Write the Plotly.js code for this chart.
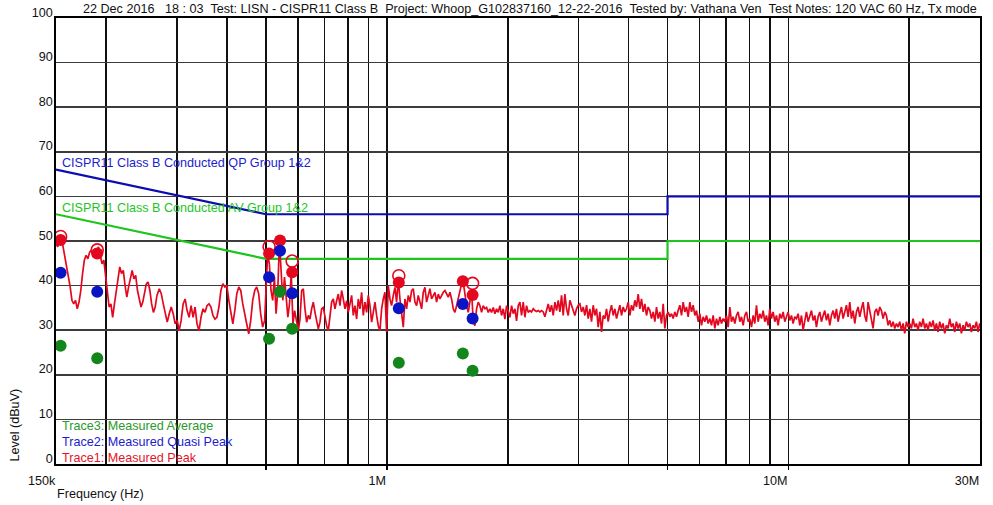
<!DOCTYPE html>
<html><head><meta charset="utf-8">
<script src="https://cdn.plot.ly/plotly-3.0.1.min.js"></script>
<style>html,body{margin:0;padding:0;background:#fff;}#chart{width:993px;height:505px;}</style>
</head><body><div id="chart"></div>
<script>
// ---- Trace1: measured peak sweep (dBuV) ----
// Each sweep segment: start / stop frequency (Hz) and the levels on a log-spaced grid
const sweepA = {start: 150000, stop: 267600};
const peakLevelsA = [49.4,48.7,50.5,50.9,48.7,46.4,44.2,42.7,39.7,36.7,35.9,36.7,34.8,36.3,38.9,42.7,45.7,46.8,46.0,47.5,
  47.9,46.4,48.3,47.9,48.7,46.8,44.9,45.7,41.9,37.4,35.2,35.9,32.9,35.9,38.9,41.9,44.2,42.7,43.4,40.0,
  37.4,39.7,41.9,43.4,41.5,42.3,38.9,36.7,35.2,36.3,38.2,40.4,40.8,38.9,35.9,34.0,35.2,37.8];
const sweepB = {start: 271200, stop: 496200};
const peakLevelsB = [39.3,38.2,35.9,33.7,31.8,33.7,35.2,33.7,31.4,32.2,29.9,32.2,35.9,37.0,34.4,32.9,35.5,32.9,35.2,31.4,
  29.9,32.9,34.8,34.0,35.5,35.9,35.2,33.3,32.5,32.9,35.2,38.9,40.4,39.7,40.0,36.7,33.7,31.4,34.4,38.2,
  39.7,38.9,35.9,34.0,31.4,29.2,32.2,36.7,38.9,39.7,38.2,33.7,30.7,32.2];
const sweepC = {start: 500000, stop: 589300};
const peakLevelsC = [38.9,47.2,44.9,38.9,36.7,41.9,33.7,38.9,49.8,42.7,36.7,41.9,36.7,32.9,36.0,42.8,31.4,34.4];
const sweepD = {start: 601900, stop: 30240000};
const peakLevelsD = [
  29.9,32.5,38.9,39.3,34.8,31.8,33.3,32.5,34.8,36.3,34.0,31.8,30.3,31.8,34.8,35.1,32.5,31.0,29.9,34.0,
  36.3,37.0,34.8,36.6,38.1,35.5,38.9,37.0,34.8,36.6,34.0,35.9,37.8,33.3,35.5,32.5,37.0,34.8,38.5,33.3,
  36.3,34.0,37.8,35.5,31.8,34.0,36.3,33.3,31.0,29.9,34.8,37.0,38.5,29.6,40.0,37.0,35.5,37.8,39.6,36.3,
  41.5,37.0,34.0,30.7,37.0,34.8,37.8,36.3,38.9,39.3,36.3,35.5,37.8,36.3,34.8,38.5,39.6,36.3,37.8,39.3,
  37.0,37.8,38.5,36.3,38.1,37.0,37.8,38.5,38.9,38.1,37.4,38.5,37.0,34.8,34.0,35.5,37.0,38.5,40.4,40.8,
  37.8,35.5,34.0,37.0,38.9,31.8,31.0,34.8,36.3,35.5,34.0,35.5,34.8,35.1,34.0,34.8,34.0,35.1,33.7,34.8,
  34.0,35.5,33.3,34.8,32.5,35.5,34.0,32.9,35.5,33.7,34.8,32.1,35.5,36.3,33.3,36.3,32.9,35.5,34.0,
  34.4,34.1,34.8,34.4,34.2,34.4,34.1,34.4,34.1,33.0,34.8,35.9,34.1,35.6,33.3,36.3,34.4,36.7,34.1,37.8,
  33.3,38.1,34.8,33.3,36.7,35.6,34.1,33.3,34.8,35.6,35.9,34.1,35.2,33.3,35.6,32.6,34.8,31.9,35.6,33.3,
  34.8,30.7,34.1,29.6,33.3,32.6,34.8,31.9,34.1,35.6,33.3,34.8,32.6,34.4,35.6,33.3,35.2,34.1,34.8,36.3,
  33.3,35.6,34.4,36.7,35.2,38.1,34.8,37.0,34.1,35.9,33.3,35.2,34.4,32.6,34.1,31.9,35.2,32.6,34.1,31.5,
  35.9,30.4,33.3,34.1,33.0,33.7,32.6,34.1,33.0,34.4,35.6,33.3,36.3,34.1,35.2,33.0,36.3,34.1,35.6,33.3,
  34.4,31.9,33.7,31.1,33.0,31.9,33.3,31.5,32.6,31.1,33.3,30.4,32.6,31.1,33.0,31.5,32.6,31.9,33.3,30.7,
  35.2,31.9,33.0,31.5,33.3,34.1,31.9,33.0,31.1,33.3,34.1,31.9,32.6,30.7,33.3,31.5,35.6,31.9,
  33.7,32.6,34.4,31.9,33.3,31.1,34.8,32.6,34.1,31.9,33.3,31.1,33.7,32.6,34.1,31.9,33.3,34.1,32.2,33.3,
  31.5,33.0,32.6,33.7,31.1,33.3,30.0,32.6,34.1,31.9,33.3,34.4,32.2,33.3,30.7,33.0,34.1,31.9,33.3,34.4,
  32.2,33.7,31.1,33.3,34.4,32.6,34.8,31.9,33.7,35.2,32.6,34.4,35.6,33.0,36.3,32.6,34.4,31.5,34.1,35.2,
  33.0,34.8,36.3,33.3,31.9,36.3,34.4,33.0,30.4,34.1,34.8,33.3,35.2,34.4,32.6,34.1,33.3,31.1,32.2,30.7,
  31.9,30.4,31.5,30.7,31.9,30.0,31.5,29.3,31.9,30.7,31.5,30.4,32.6,30.7,31.5,30.0,31.9,30.7,32.6,30.4,
  31.5,30.0,31.9,30.7,32.2,30.0,31.5,29.6,31.9,30.4,31.5,29.3,31.1,30.4,32.6,30.7,31.5,29.6,31.9,30.4,
  31.5,29.3,31.1,30.0,31.9,30.7,31.5,29.6,31.1,30.4,31.9,29.6,31.5,30.4];

// ---- Marker readings (frequency Hz, level dBuV) ----
const peakRingFreq  = [154000, 190000, 509000, 581000, 1071000, 1635000];
const peakRingLevel = [51.0, 48.0, 48.7, 45.5, 42.2, 40.5];
const peakFreq  = [154000, 190000, 509000, 542000, 581000, 1071000, 1546000, 1635000];
const peakLevel = [50.2, 47.2, 47.2, 50.1, 43.0, 40.7, 41.0, 37.9];
const qpFreq  = [154000, 190000, 509000, 542000, 581000, 1071000, 1546000, 1635000];
const qpLevel = [42.9, 38.6, 41.9, 47.8, 38.3, 34.9, 35.9, 32.6];
const avFreq  = [154000, 190000, 509000, 542000, 581000, 1071000, 1546000, 1635000];
const avLevel = [26.5, 23.7, 28.1, 38.6, 30.3, 22.7, 24.8, 20.9];

// ---- CISPR11 Class B limits ----
const limitFreq = [150000, 500000, 5000000, 5000000, 30000000];
const qpLimit   = [66, 56, 56, 60, 60];
const avLimit   = [56, 46, 46, 50, 50];

// ---- Axis ticks ----
const xMajorTicks  = [150000, 1000000, 10000000, 30000000];
const xMajorLabels = ['150k', '1M', '10M', '30M'];
const xMinorGrid   = [200000,300000,400000,500000,600000,700000,800000,900000,
                      2000000,3000000,4000000,5000000,6000000,7000000,8000000,9000000,20000000];
const xTickMarks   = [500000, 1000000, 5000000, 10000000];

const titleText = '22 Dec 2016\u00a0\u00a0\u00a018 : 03\u00a0\u00a0Test: LISN - CISPR11 Class B\u00a0\u00a0Project: Whoop_G102837160_12-22-2016\u00a0\u00a0Tested by: Vathana Ven\u00a0\u00a0Test Notes: 120 VAC 60 Hz, Tx mode';

function sweepFreqs(seg, n) {
  const a = Math.log10(seg.start), b = Math.log10(seg.stop), out = [];
  for (let i = 0; i < n; i++) out.push(Math.pow(10, a + (b - a) * i / (n - 1)));
  return out;
}
const traceFreq = [].concat(
  sweepFreqs(sweepA, peakLevelsA.length), sweepFreqs(sweepB, peakLevelsB.length),
  sweepFreqs(sweepC, peakLevelsC.length), sweepFreqs(sweepD, peakLevelsD.length));
const traceLevel = [].concat(peakLevelsA, peakLevelsB, peakLevelsC, peakLevelsD);

const RED = '#e3081f', BLUE = '#0a14c4', GREEN = '#12861a';
const FONT = 'Liberation Sans, Arial, sans-serif';

const data = [
  {x: limitFreq, y: avLimit, mode: 'lines', line: {color: '#1ec51e', width: 2.2}, hoverinfo: 'skip'},
  {x: limitFreq, y: qpLimit, xaxis: 'x2', mode: 'lines', line: {color: '#0c0cb0', width: 2.2}, hoverinfo: 'skip'},
  {x: traceFreq, y: traceLevel, mode: 'lines', line: {color: RED, width: 1.7}},
  {x: peakRingFreq, y: peakRingLevel, mode: 'markers', marker: {symbol: 'circle-open', size: 12, color: RED, line: {width: 1.6, color: RED}}},
  {x: peakFreq, y: peakLevel, mode: 'markers', marker: {symbol: 'circle', size: 12, color: RED}},
  {x: qpFreq, y: qpLevel, mode: 'markers', marker: {symbol: 'circle', size: 12, color: BLUE}},
  {x: avFreq, y: avLevel, mode: 'markers', marker: {symbol: 'circle', size: 12, color: GREEN}}
];

const xRange = [Math.log10(150000), Math.log10(30000000)];
function ann(text, x, y, color, extra) {
  return Object.assign({text: text, x: x, y: y, xref: 'paper', yref: 'paper', showarrow: false,
    xanchor: 'left', yanchor: 'middle', font: {family: FONT, size: 12.6, color: color}}, extra || {});
}

const layout = {
  width: 993, height: 505,
  margin: {l: 56, r: 13, t: 18, b: 41},
  paper_bgcolor: '#fff', plot_bgcolor: '#fff',
  showlegend: false,
  font: {family: FONT, size: 12.6, color: '#111'},
  xaxis: {
    type: 'log', range: xRange, tickvals: xMajorTicks, ticktext: xMajorLabels,
    ticks: '', showgrid: true, gridcolor: '#111', gridwidth: 1.6,
    showline: true, mirror: true, linecolor: '#000', linewidth: 1.6, zeroline: false,
    ticklabelposition: 'outside left', ticklabelstandoff: 4,
    minor: {tickvals: xMinorGrid, showgrid: true, gridcolor: '#111', gridwidth: 1.6, ticks: ''}
  },
  xaxis2: {
    type: 'log', range: xRange, overlaying: 'x', anchor: 'y', side: 'bottom',
    tickvals: xTickMarks, ticks: 'outside', ticklen: 5, tickwidth: 1.5, tickcolor: '#000',
    showticklabels: false, showgrid: false, zeroline: false, showline: false
  },
  yaxis: {
    range: [0, 100], tick0: 0, dtick: 10, ticks: '',
    showgrid: true, gridcolor: '#3c3c3c', gridwidth: 1.6,
    showline: true, mirror: true, linecolor: '#000', linewidth: 1.6, zeroline: false,
    ticklabelposition: 'outside top', ticklabelstandoff: -1, ticklabelshift: 3
  },
  annotations: [
    ann(titleText, 0.027, 1.0213, '#111'),
    ann('CISPR11 Class B Conducted QP Group 1&2', 0.0045, 0.6742, '#1c1ccc'),
    ann('CISPR11 Class B Conducted AV Group 1&2', 0.0045, 0.5733, '#1ec51e'),
    ann('Trace3: Measured Average', 0.0043, 0.0852, '#2a9a2a'),
    ann('Trace2: Measured Quasi Peak', 0.0043, 0.0493, '#1c1ccc'),
    ann('Trace1: Measured Peak', 0.0043, 0.0135, '#e3142a'),
    ann('Frequency (Hz)', -0.001, -0.0673, '#111'),
    ann('Level (dBuV)', -0.0444, 0.002, '#111', {xanchor: 'center', yanchor: 'bottom', textangle: -90})
  ]
};

Plotly.newPlot('chart', data, layout, {displayModeBar: false, staticPlot: true});
</script></body></html>
